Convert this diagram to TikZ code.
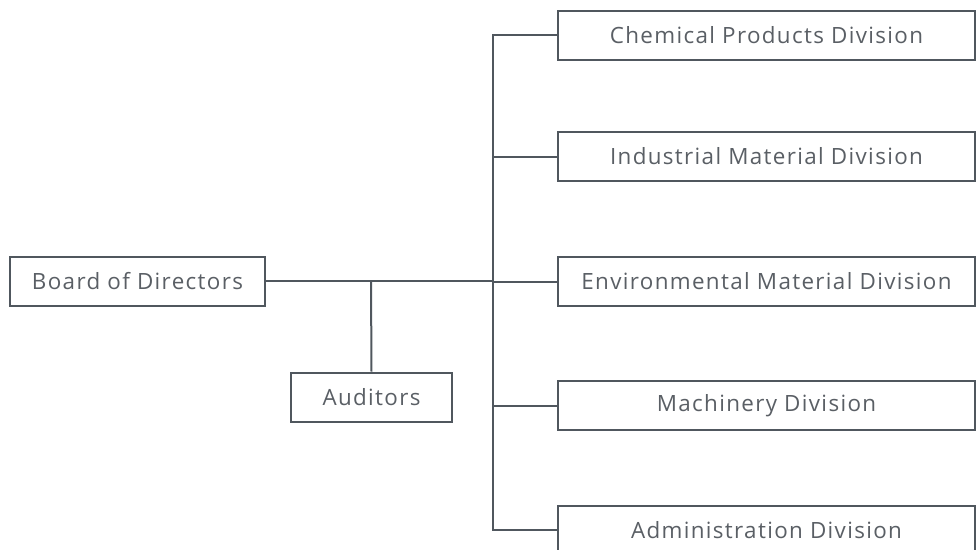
\documentclass[tikz,border=0pt]{standalone}
\usepackage{fontspec}
\setmainfont{Open Sans}[LetterSpace=6.0]
\usepackage{xcolor}
\usepackage{tikz}
\definecolor{linegray}{HTML}{50575E}
\definecolor{textgray}{HTML}{5A5F65}

\tikzset{
    unitbox/.style={draw=linegray, line width=1.5pt, fill=white, rectangle,
        minimum height=36.75pt, inner sep=0pt, text=textgray,
        font=\fontsize{16.8}{20}\selectfont},
    topbox/.style={unitbox, minimum width=191.25pt},
    divbox/.style={unitbox, minimum width=312.75pt},
    link/.style={draw=linegray, line width=1.5pt}
}

\begin{document}
\begin{tikzpicture}[x=0.75pt, y=-0.75pt]
    \useasboundingbox (0,0) rectangle (976,550);
    \clip (0,0) rectangle (976,550);

    % Board and auditors
    \node[topbox] (board) at (137.5,281) {Board of Directors};
    \node[unitbox, minimum width=120.75pt] (auditors) at (371.5,397) {Auditors};

    % Divisions
    \node[divbox] (chem) at (766.5,35) {Chemical Products Division};
    \node[divbox] (indus) at (766.5,156.5) {Industrial Material Division};
    \node[divbox] (envir) at (766.5,281.5) {Environmental Material Division};
    \node[divbox] (mach) at (766.5,405.5) {Machinery Division};
    \node[divbox] (admin) at (766.5,530) {Administration Division};

    % Spine
    \coordinate (split) at (371,281);
    \coordinate (spine) at (493,281);
    \draw[link] (board.east) -- (spine);
    \draw[link] (split) -- (auditors.north);
    \draw[link] (chem.west) -| (spine) |- (admin.west);
    \foreach \d in {indus, envir, mach}
        \draw[link] (spine |- \d.west) -- (\d.west);
\end{tikzpicture}
\end{document}
